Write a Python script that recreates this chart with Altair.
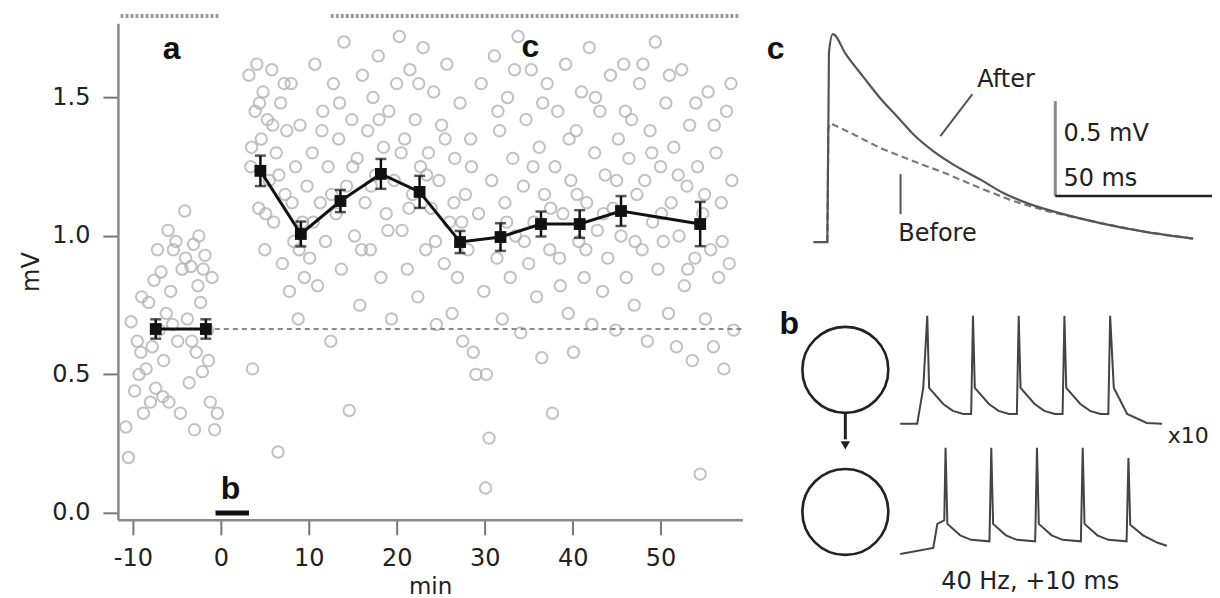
import altair as alt
import pandas as pd

# ---------------- main panel (min, mV) ----------------
pre_t = [-10.8,-10.5,-10.2,-9.8,-9.5,-9.3,-9.1,-8.8,-8.5,-8.2,-8.0,-7.8,-7.6,-7.4,-7.0,-6.8,-6.5,-6.2,-6.0,-5.9,
         -5.7,-5.4,-5.1,-4.9,-4.6,-4.4,-4.1,-3.8,-3.6,-3.4,-3.1,-3.0,-2.8,-2.6,-2.3,-2.1,-2.0,-1.8,-1.5,-1.2,
         -1.0,-0.7,-0.4]
pre_v = [0.31,0.20,0.69,0.44,0.62,0.50,0.58,0.36,0.52,0.76,0.40,0.60,0.84,0.45,0.66,0.87,0.55,0.72,1.02,0.40,
         0.80,0.95,0.98,0.62,0.36,0.88,1.09,0.70,0.47,0.89,0.97,0.30,0.58,0.82,0.76,0.51,0.88,0.93,0.66,0.40,
         0.85,0.30,0.36]
pre2_t = [-9.0, -7.2, -5.5, -4.0, -2.5, -1.4, -6.6, -3.3]
pre2_v = [0.78, 0.95, 0.68, 0.92, 1.00, 0.55, 0.42, 0.62]

early_t = [3.2,3.4,3.6,3.9,4.1,4.3,4.6,4.8,5.0,5.3,5.5,5.8,6.0,6.3,6.5,6.8,7.0,7.3,7.5,7.8,8.0,8.3,8.5,8.8,9.0,9.3,9.5,9.8]
early_v = [1.58,1.25,0.52,1.45,1.62,1.10,1.35,1.52,0.95,1.42,1.20,1.60,1.05,1.30,0.22,1.48,0.90,1.15,1.38,0.80,1.55,0.98,1.25,0.70,1.40,1.05,0.85,1.18]

mid1_t = [10.1,10.4,10.7,11.0,11.3,11.6,11.9,12.2,12.5,12.8,13.1,13.4,13.7,14.0,14.3,14.6,14.9,15.2,15.5,15.8,
          16.1,16.4,16.7,17.0,17.3,17.6,17.9,18.2,18.5,18.8,19.1,19.4,19.7,20.0]
mid1_v = [0.92,1.30,1.62,0.82,1.12,1.45,0.98,1.25,0.62,1.55,1.08,1.35,0.88,1.70,1.18,0.37,1.42,1.00,1.28,0.75,
          1.58,1.12,1.38,0.95,1.50,1.22,1.65,0.85,1.32,1.08,1.45,0.70,1.20,1.55]

mid2_t = [20.3,20.6,20.9,21.2,21.5,21.8,22.1,22.4,22.7,23.0,23.3,23.6,23.9,24.2,24.5,24.8,25.1,25.4,25.7,26.0,
          26.3,26.6,26.9,27.2,27.5,27.8,28.1,28.4,28.7,29.0,29.3,29.6,29.9,30.2,30.5,30.1]
mid2_v = [1.72,1.02,1.35,0.88,1.60,1.15,1.42,0.78,1.25,1.68,0.95,1.30,1.10,1.52,0.68,1.20,1.40,0.90,1.62,1.05,
          0.72,1.28,0.85,1.48,0.62,1.15,0.95,1.35,0.58,0.50,1.08,1.55,0.80,0.50,0.27,0.09]

late1_t = [30.8,31.1,31.4,31.7,32.0,32.3,32.6,32.9,33.2,33.5,33.8,34.1,34.4,34.7,35.0,35.3,35.6,35.9,36.2,36.5,
           36.8,37.1,37.4,37.7,38.0,38.3,38.6,38.9,39.2,39.5,39.8,40.1,40.4,40.7,41.0,41.3,41.6,41.9,42.2,42.5,
           42.8,43.1,43.4,43.7,44.0,44.3,44.6]
late1_v = [1.20,1.65,0.92,1.38,0.70,1.12,1.50,0.85,1.28,1.00,1.72,0.65,1.18,1.42,0.90,1.60,1.05,0.78,1.32,0.56,
           1.15,1.55,0.95,0.36,1.25,1.45,0.82,1.08,1.62,0.72,1.20,0.58,1.38,0.98,1.52,0.85,1.12,1.68,0.68,1.30,
           1.02,1.45,0.80,1.22,0.92,1.58,1.10]

late2_t = [44.9,45.2,45.5,45.8,46.1,46.4,46.7,47.0,47.3,47.6,47.9,48.2,48.5,48.8,49.1,49.4,49.7,50.0,50.3,50.6,
           50.9,51.2,51.5,51.8,52.1,52.4,52.7,53.0,53.3,53.6,53.9,54.2,54.5,54.8,55.1,55.4,55.7,56.0,56.3,56.6,
           56.9,57.2,57.5,57.8,58.1,58.3]
late2_v = [0.66,1.35,1.00,1.62,0.85,1.28,1.42,0.75,1.15,1.55,0.95,1.20,0.62,1.38,1.05,1.70,0.88,1.25,0.98,1.48,
           0.72,1.12,1.32,0.60,1.00,1.60,0.82,1.18,1.40,0.55,0.92,1.25,0.14,1.08,0.70,1.52,0.95,0.60,1.30,0.85,
           1.12,0.52,1.45,0.90,1.20,0.66]

extra_t = [3.5,4.4,5.1,5.9,6.6,7.2,8.1,8.9,10.5,11.5,12.6,13.5,15.0,16.0,17.1,18.0,19.0,20.5,21.4,22.5,
           23.4,24.4,25.5,26.5,27.4,28.5,31.5,32.5,33.4,34.5,35.5,36.6,37.5,38.5,39.6,40.5,41.5,42.6,43.5,45.0,
           46.0,47.1,48.0,49.0,50.1,51.0,52.0,53.1,54.0,55.0,56.1,57.0,58.0]
extra_v = [1.32,1.48,1.08,1.40,1.22,1.55,1.12,0.95,1.05,1.38,1.15,1.48,1.25,0.95,1.18,1.42,1.02,1.30,1.10,1.55,
           1.22,0.98,1.35,1.12,1.05,1.25,1.45,1.05,1.60,0.98,1.25,1.48,1.10,0.92,1.35,1.15,0.95,1.50,1.08,1.20,
           1.45,0.98,1.62,1.30,1.08,1.58,1.22,0.88,1.48,1.15,1.40,0.98,1.55]

mean_t = [-7.4, -1.7, 4.5, 9.1, 13.6, 18.2, 22.6, 27.2, 31.8, 36.4, 40.8, 45.5, 54.5]
mean_v = [0.664, 0.664, 1.235, 1.007, 1.126, 1.224, 1.159, 0.978, 0.996, 1.043, 1.043, 1.090, 1.043]
mean_err = [0.035, 0.035, 0.055, 0.045, 0.040, 0.054, 0.058, 0.040, 0.050, 0.045, 0.050, 0.054, 0.080]
mean_grp = ["pre", "pre", "post", "post", "post", "post", "post", "post", "post", "post", "post", "post", "post"]

baseline_level = [0.664]
baseline_from = [-1.7]
baseline_to = [59.3]

period_start = [-11.4, 12.5]
period_end = [-0.2, 59.1]
period_level = [1.794, 1.794]

b_start = [-0.6]
b_end = [3.2]
b_level = [0.0]

label_text = ["a", "c", "b"]
label_t = [-5.6, 35.2, 1.1]
label_v = [1.675, 1.682, 0.087]

x_ticks = [-10, 0, 10, 20, 30, 40, 50]
y_ticks = [0.0, 0.5, 1.0, 1.5]
X_DOMAIN = [-11.7, 59.3]
Y_DOMAIN = [-0.025, 1.768]

# ---------------- inset c : EPSPs (ms, mV) ----------------
after_t = [0, 4.3, 4.8, 6.0, 10.0, 15.4, 20.5, 25.9, 31.0, 37.0, 44.0, 51.5, 58.5, 66.0, 77.2, 88.6, 103.0, 117.3]
after_v = [0, 0, 1.0, 1.095, 0.99, 0.87, 0.76, 0.66, 0.565, 0.479, 0.40, 0.33, 0.26, 0.205, 0.147, 0.100, 0.052, 0.018]
before_t = [4.3, 4.6, 5.3, 12.3, 20.7, 30.9, 41.4, 51.5, 61.7, 72.2, 88.6, 103.0, 117.3]
before_v = [0.0, 0.60, 0.626, 0.568, 0.495, 0.426, 0.358, 0.284, 0.216, 0.163, 0.100, 0.052, 0.018]
sb_t = [74.7]
sb_v = [0.242]
sb_mv = [0.5]
sb_ms = [50]
c_text = ["c", "After", "Before", "0.5 mV", "50 ms"]
c_text_t = [-11.7, 50.6, 26.2, 77.2, 77.2]
c_text_v = [1.016, 0.853, 0.042, 0.568, 0.33]
ptr_t = [49.1, 26.9]
ptr_v = [0.779, 0.358]
ptr_t2 = [39.2, 26.9]
ptr_v2 = [0.558, 0.147]
IC_X = [-13.3, 123.1]
IC_Y = [-0.1105, 1.1526]

# ---------------- inset b : spike trains (ms, a.u.) ----------------
up_t = [-14.8, -5.5, -2.2, 0, 1, 8.7, 14, 19.7, 24, 25, 26, 33.7, 39, 44.7, 49, 50, 51, 58.7, 64, 69.7, 74,
        75, 76, 83.7, 89, 94.7, 99, 100, 102, 109.3, 120, 128.4]
up_v = [55.7, 55.7, 67.7, 91.7, 67.7, 62.3, 60, 59, 59, 91.7, 67.7, 62.3, 60, 59, 59, 91.7, 67.7, 62.3, 60, 59, 59,
        91.7, 67.7, 62.3, 60, 59, 59, 91.7, 67.7, 59, 56, 55.7]
lo_t = [-14.8, 3.3, 5.5, 9.3, 10, 11, 18, 24, 34, 35, 36, 43, 49, 59, 60, 61, 68, 74, 84, 85, 86, 93, 99, 109,
        110, 111, 118, 126, 131]
lo_v = [12.3, 14.3, 22.3, 23.5, 47.7, 22.3, 18.5, 17, 16.5, 47.7, 22.3, 18.5, 17, 16.5, 47.7, 22.3, 18.5, 17, 16.5,
        47.7, 22.3, 18.5, 17, 16.5, 44.3, 22, 18.5, 16, 15]
cell_t = [-44.8, -44.8]
cell_v = [73.7, 26.3]
arrow_t = [-44.8]
arrow_from = [59.0]
arrow_to = [50.5]
arrow_head = [48.5]
b_text = ["b", "x10", "40 Hz, +10 ms"]
b_text_t = [-75.4, 131.5, 56.3]
b_text_v = [89.0, 51.7, 3.0]
IB_X = [-85.8, 155.7]
IB_Y = [2, 100]

FONT = "DejaVu Sans"
BOLD = "Liberation Sans"

# ================= main chart =================
xs = alt.Scale(domain=X_DOMAIN, nice=False, zero=False)
ys = alt.Scale(domain=Y_DOMAIN, nice=False, zero=False)
xa = alt.Axis(values=x_ticks, title="min", labelExpr="'' + datum.value", grid=False,
              tickSize=15, labelPadding=12, titlePadding=5, labelFontSize=24, titleFontSize=23,
              labelFont=FONT, titleFont=FONT, titleFontWeight="normal")
ya = alt.Axis(values=y_ticks, title="mV", format=".1f", grid=False,
              tickSize=15, labelPadding=13, titlePadding=8, labelFontSize=24, titleFontSize=24,
              labelFont=FONT, titleFont=FONT, titleFontWeight="normal")

def X(f="t"):
    return alt.X(f"{f}:Q", scale=xs, axis=xa)

def Y(f="v"):
    return alt.Y(f"{f}:Q", scale=ys, axis=ya)

scatter_df = pd.DataFrame({
    "t": pre_t + pre2_t + early_t + mid1_t + mid2_t + late1_t + late2_t + extra_t,
    "v": pre_v + pre2_v + early_v + mid1_v + mid2_v + late1_v + late2_v + extra_v,
})
scatter = alt.Chart(scatter_df).mark_point(
    shape="circle", filled=False, size=130, strokeWidth=2, color="#b3b3b3", opacity=0.8
).encode(x=X(), y=Y())

base_df = pd.DataFrame({"t": baseline_from, "t2": baseline_to, "v": baseline_level})
baseline = alt.Chart(base_df).mark_rule(color="#8a8a8a", strokeWidth=2, strokeDash=[5, 4]).encode(
    x=X(), x2="t2:Q", y=Y())

mean_df = pd.DataFrame({"t": mean_t, "v": mean_v, "e": mean_err, "g": mean_grp})
mean_base = alt.Chart(mean_df).transform_calculate(lo="datum.v - datum.e", hi="datum.v + datum.e")
mean_line = mean_base.mark_line(color="#111", strokeWidth=3).encode(x=X(), y=Y(), detail="g:N")
mean_err_rule = mean_base.mark_rule(color="#111", strokeWidth=2.5).encode(x=X(), y=Y("lo"), y2="hi:Q")
mean_cap_lo = mean_base.mark_tick(color="#111", orient="horizontal", size=11, thickness=2.5).encode(x=X(), y=Y("lo"))
mean_cap_hi = mean_base.mark_tick(color="#111", orient="horizontal", size=11, thickness=2.5).encode(x=X(), y=Y("hi"))
mean_pts = mean_base.mark_point(shape="square", filled=True, size=140, color="#111", opacity=1).encode(x=X(), y=Y())

period_df = pd.DataFrame({"t": period_start, "t2": period_end, "v": period_level})
periods = alt.Chart(period_df).mark_rule(color="#9a9a9a", strokeWidth=4, strokeDash=[3, 2]).encode(
    x=X(), x2="t2:Q", y=Y())

bbar_df = pd.DataFrame({"t": b_start, "t2": b_end, "v": b_level})
bbar = alt.Chart(bbar_df).mark_rule(color="#111", strokeWidth=5).encode(x=X(), x2="t2:Q", y=Y())

lab_df = pd.DataFrame({"t": label_t, "v": label_v, "s": label_text})
labels = alt.Chart(lab_df).mark_text(font=BOLD, fontSize=32, fontWeight="bold", color="#111",
                                     align="center", baseline="middle").encode(x=X(), y=Y(), text="s:N")

main = alt.layer(scatter, baseline, periods, mean_err_rule, mean_cap_lo, mean_cap_hi, mean_line,
                 mean_pts, bbar, labels).properties(width=625, height=497)

# ================= inset c =================
icx = alt.Scale(domain=IC_X, nice=False, zero=False)
icy = alt.Scale(domain=IC_Y, nice=False, zero=False)

def CX(f="t"):
    return alt.X(f"{f}:Q", scale=icx, axis=None)

def CY(f="v"):
    return alt.Y(f"{f}:Q", scale=icy, axis=None)

after_df = pd.DataFrame({"t": after_t, "v": after_v, "i": list(range(len(after_t)))})
before_df = pd.DataFrame({"t": before_t, "v": before_v, "i": list(range(len(before_t)))})
after_line = alt.Chart(after_df).mark_line(color="#555", strokeWidth=2.2, interpolate="monotone").encode(
    x=CX(), y=CY(), order="i:Q")
before_line = alt.Chart(before_df).mark_line(color="#7a7a7a", strokeWidth=2.2, strokeDash=[7, 4]).encode(
    x=CX(), y=CY(), order="i:Q")

sbv_df = pd.DataFrame({"t": sb_t, "v": sb_v, "v2": [sb_v[0] + sb_mv[0]]})
sb_vert = alt.Chart(sbv_df).mark_rule(color="#8a8a8a", strokeWidth=3).encode(x=CX(), y=CY(), y2="v2:Q")
sbh_df = pd.DataFrame({"t": sb_t, "t2": [sb_t[0] + sb_ms[0]], "v": sb_v})
sb_horiz = alt.Chart(sbh_df).mark_rule(color="#222", strokeWidth=2.5, clip=True).encode(
    x=CX(), x2="t2:Q", y=CY())

ptr_df = pd.DataFrame({"t": ptr_t, "v": ptr_v, "t2": ptr_t2, "v2": ptr_v2})
pointers = alt.Chart(ptr_df).mark_rule(color="#555", strokeWidth=2).encode(
    x=CX(), y=CY(), x2="t2:Q", y2="v2:Q")

ct_df = pd.DataFrame({"t": c_text_t[1:], "v": c_text_v[1:], "s": c_text[1:]})
c_texts = alt.Chart(ct_df).mark_text(font=FONT, fontSize=24, color="#222", align="left",
                                     baseline="middle").encode(x=CX(), y=CY(), text="s:N")
cl_df = pd.DataFrame({"t": c_text_t[:1], "v": c_text_v[:1], "s": c_text[:1]})
c_label = alt.Chart(cl_df).mark_text(font=BOLD, fontSize=32, fontWeight="bold", color="#111", align="center",
                                     baseline="middle").encode(x=CX(), y=CY(), text="s:N")

insetC = alt.layer(before_line, after_line, sb_vert, sb_horiz, pointers, c_texts, c_label).properties(
    width=442, height=240)

# ================= inset b =================
ibx = alt.Scale(domain=IB_X, nice=False, zero=False)
iby = alt.Scale(domain=IB_Y, nice=False, zero=False)

def BX(f="t"):
    return alt.X(f"{f}:Q", scale=ibx, axis=None)

def BY(f="v"):
    return alt.Y(f"{f}:Q", scale=iby, axis=None)

up_df = pd.DataFrame({"t": up_t, "v": up_v, "i": list(range(len(up_t)))})
lo_df = pd.DataFrame({"t": lo_t, "v": lo_v, "i": list(range(len(lo_t)))})
up_line = alt.Chart(up_df).mark_line(color="#444", strokeWidth=2).encode(x=BX(), y=BY(), order="i:Q")
lo_line = alt.Chart(lo_df).mark_line(color="#444", strokeWidth=2).encode(x=BX(), y=BY(), order="i:Q")

cell_df = pd.DataFrame({"t": cell_t, "v": cell_v})
cells = alt.Chart(cell_df).mark_point(shape="circle", filled=False, size=7400, strokeWidth=2.6,
                                      color="#222", opacity=1).encode(x=BX(), y=BY())

arr_df = pd.DataFrame({"t": arrow_t, "v": arrow_from, "v2": arrow_to, "h": arrow_head})
arrow_shaft = alt.Chart(arr_df).mark_rule(color="#222", strokeWidth=3).encode(x=BX(), y=BY(), y2="v2:Q")
arrow_tip = alt.Chart(arr_df).mark_point(shape="triangle-down", filled=True, size=90, color="#222",
                                         opacity=1).encode(x=BX(), y=BY("h"))

bx_df = pd.DataFrame({"t": b_text_t[1:2], "v": b_text_v[1:2], "s": b_text[1:2]})
b_x10 = alt.Chart(bx_df).mark_text(font=FONT, fontSize=22, color="#222", align="left",
                                   baseline="middle").encode(x=BX(), y=BY(), text="s:N")
bf_df = pd.DataFrame({"t": b_text_t[2:], "v": b_text_v[2:], "s": b_text[2:]})
b_freq = alt.Chart(bf_df).mark_text(font=FONT, fontSize=24, color="#222", align="center",
                                    baseline="middle").encode(x=BX(), y=BY(), text="s:N")
bl_df = pd.DataFrame({"t": b_text_t[:1], "v": b_text_v[:1], "s": b_text[:1]})
b_label = alt.Chart(bl_df).mark_text(font=BOLD, fontSize=32, fontWeight="bold", color="#111", align="center",
                                     baseline="middle").encode(x=BX(), y=BY(), text="s:N")

insetB = alt.layer(up_line, lo_line, cells, arrow_shaft, arrow_tip, b_x10, b_freq, b_label).properties(
    width=442, height=294)

right = alt.vconcat(insetC, insetB, spacing=28, bounds="flush")
chart = alt.hconcat(main, right, spacing=28, bounds="flush").properties(
    padding={"left": 11, "top": 5, "right": 0, "bottom": 0}
).configure_view(stroke=None).configure_axis(
    domainColor="#888", domainWidth=2.5, tickColor="#777", tickWidth=2,
    labelColor="#222", titleColor="#222"
)

chart.save("out.html", embed_options={"renderer": "svg", "actions": False})
